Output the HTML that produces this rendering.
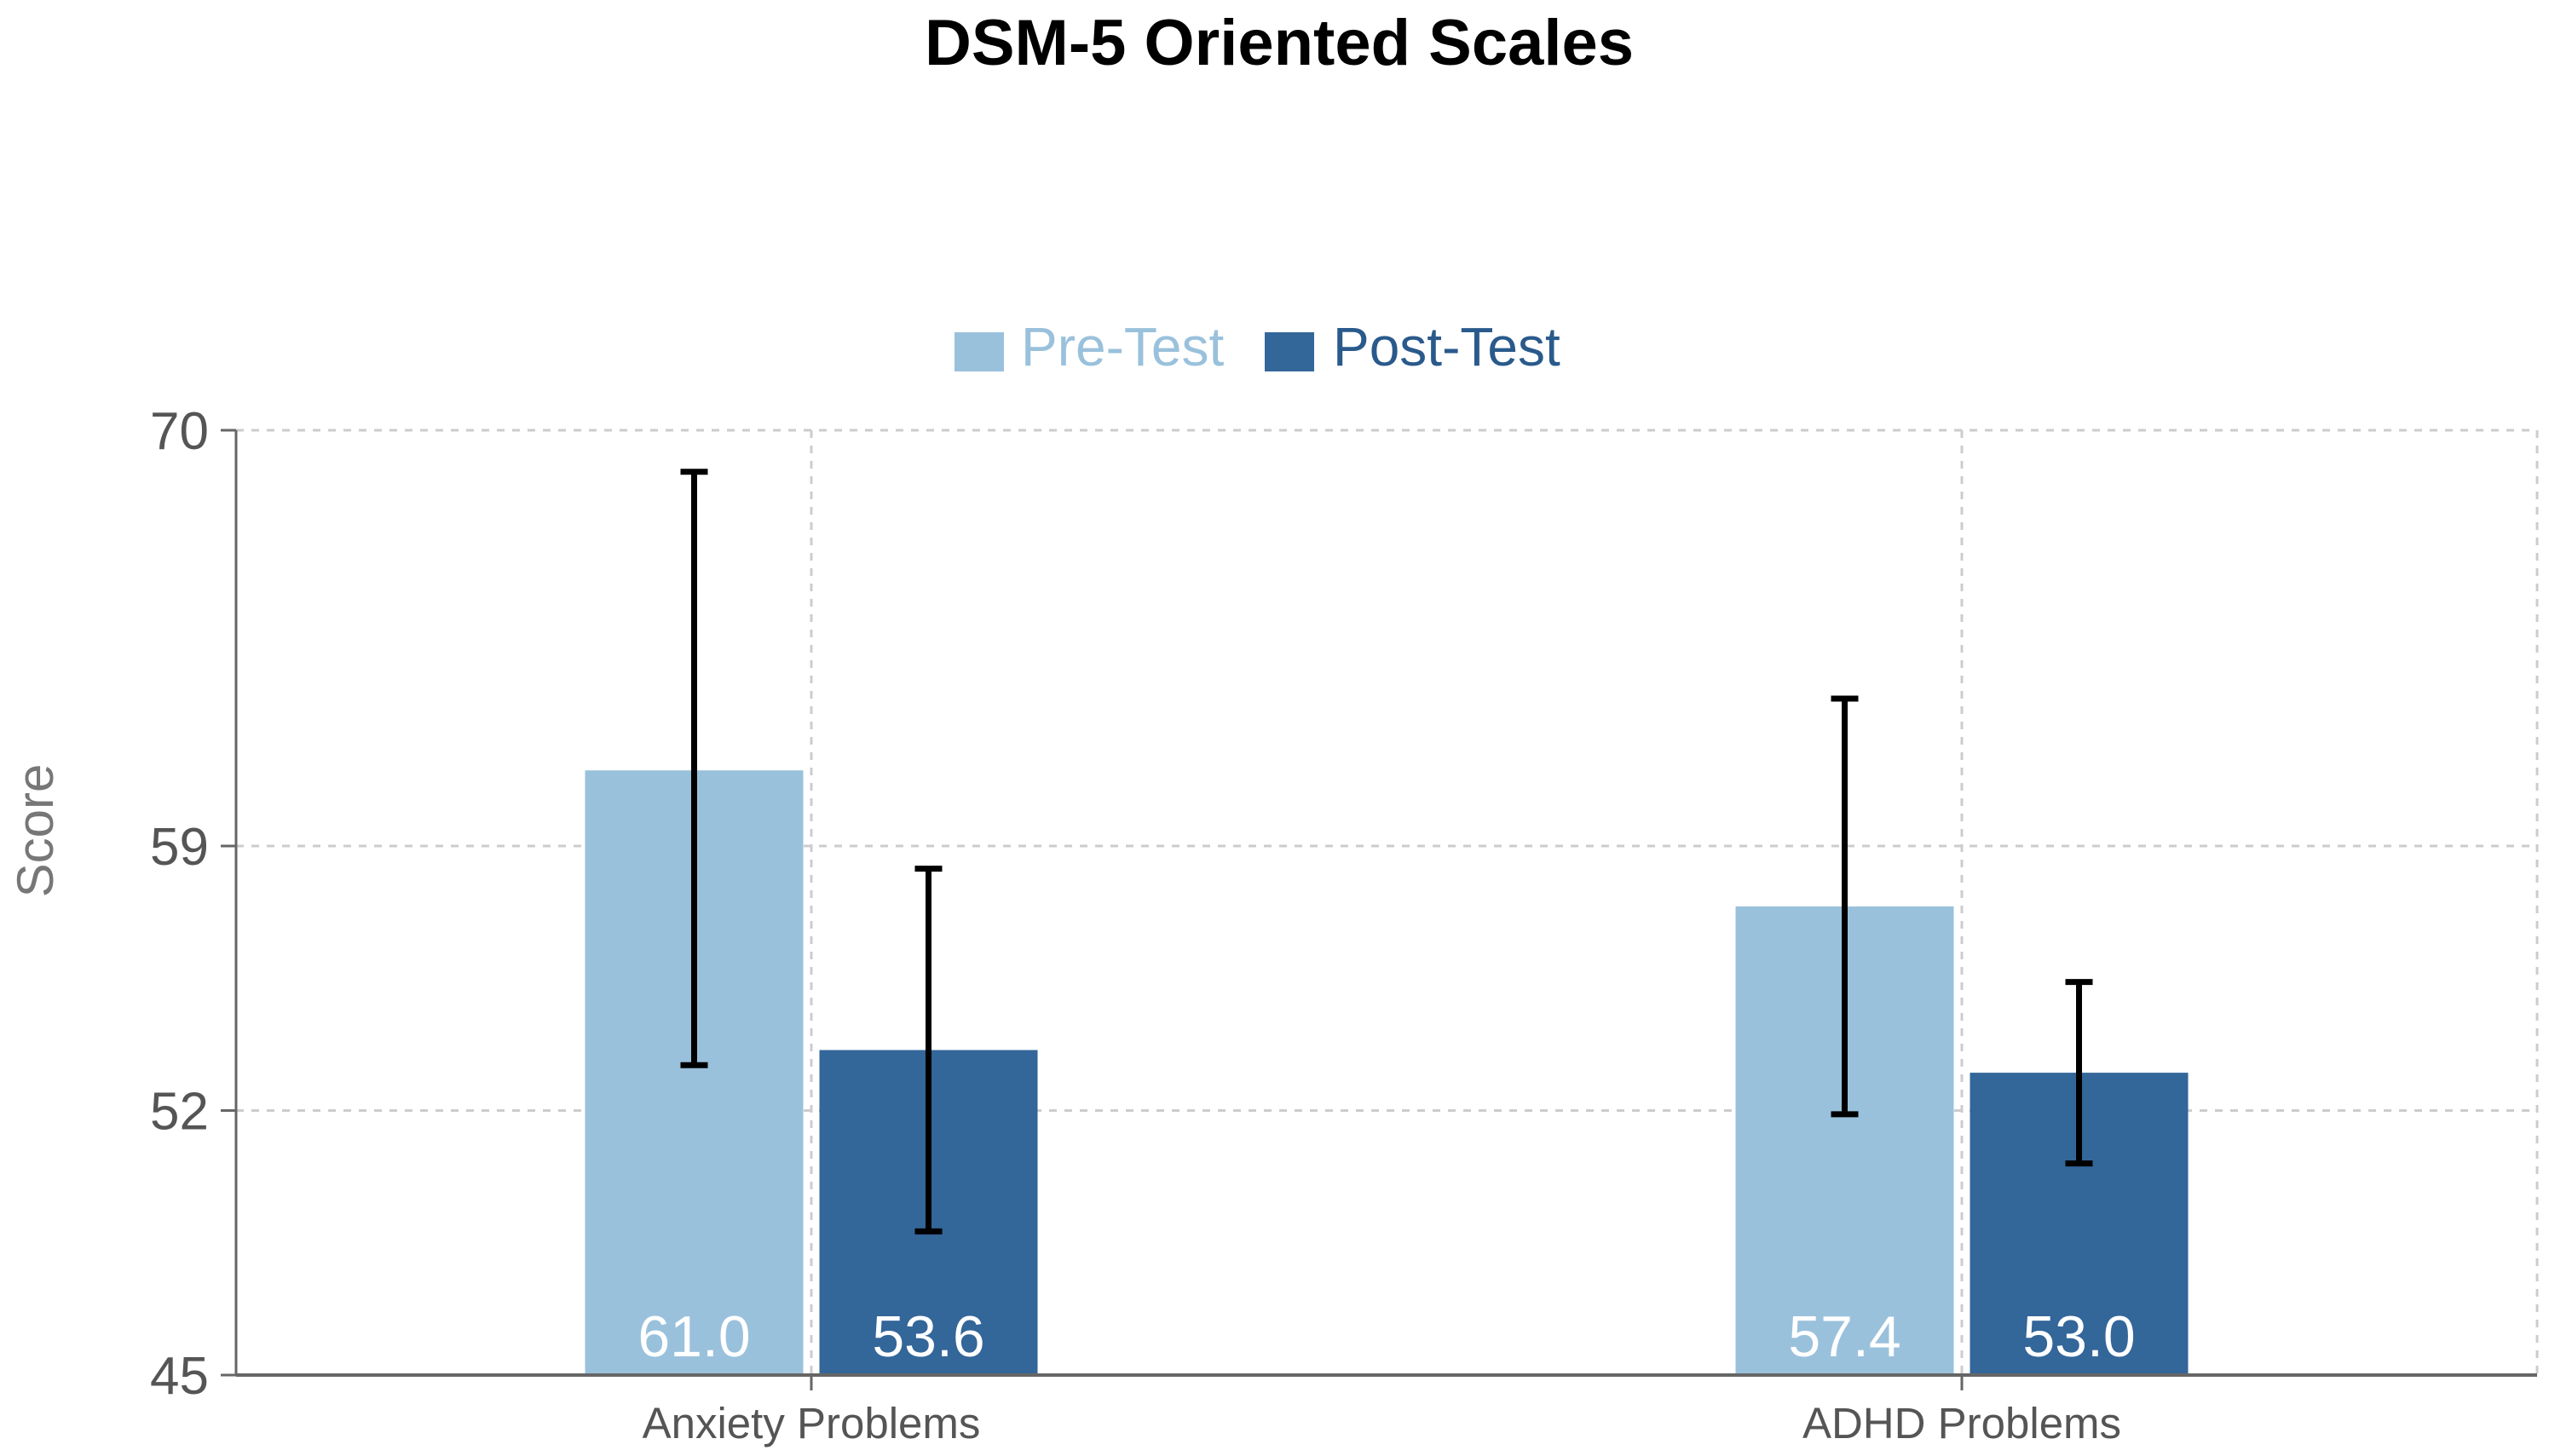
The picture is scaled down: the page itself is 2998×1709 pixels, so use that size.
<!DOCTYPE html>
<html><head><meta charset="utf-8"><style>
html,body{margin:0;padding:0;background:#fff;}
svg{display:block;font-family:"Liberation Sans",sans-serif;}
</style></head><body>
<svg id="chart" width="2998" height="1709" viewBox="0 0 2998 1709">
<text x="1501" y="76" text-anchor="middle" font-size="76" font-weight="bold" fill="#000">DSM-5 Oriented Scales</text>
<g>
<rect x="1120" y="390" width="58" height="46" fill="#9ac1dc"/>
<text x="1198" y="429" font-size="64" fill="#9ac1dc">Pre-Test</text>
<rect x="1484" y="390" width="58" height="46" fill="#336699"/>
<text x="1564" y="429" font-size="64" fill="#2a5a8c">Post-Test</text>
</g>
<text transform="translate(62,975) rotate(-90)" text-anchor="middle" font-size="60" fill="#777">Score</text>
<g id="grid"></g>
<g id="bars"></g>
<g id="axes"></g>
</svg>
<script>
const categories = ["Anxiety Problems", "ADHD Problems"];
const preValues = [61.0, 57.4];
const postValues = [53.6, 53.0];
const preLow = [53.2, 51.9];
const preHigh = [68.9, 62.9];
const postLow = [48.8, 50.6];
const postHigh = [58.4, 55.4];
const yTicks = [45, 52, 59, 70];

const NS = "http://www.w3.org/2000/svg";
const X0 = 277, X1 = 2977, Y0 = 1614, Y1 = 505, VMIN = 45, VMAX = 70;
const y = v => Y0 - (v - VMIN) / (VMAX - VMIN) * (Y0 - Y1);
const catW = (X1 - X0) / categories.length;
const xc = i => X0 + catW * (i + 0.5);
const BW = 256, GAP = 19;
function mk(tag, attrs, parent) {
  const e = document.createElementNS(NS, tag);
  for (const k in attrs) e.setAttribute(k, attrs[k]);
  parent.appendChild(e);
  return e;
}
const grid = document.getElementById('grid');
const bars = document.getElementById('bars');
const axes = document.getElementById('axes');
yTicks.forEach(t => {
  if (t !== VMIN) {
    const gl = mk('line', {x1: X0, x2: X1, y1: y(t), y2: y(t), stroke: '#cccccc', 'stroke-width': 3, 'stroke-dasharray': '9,9'}, grid);
    
    
  }
  const tk = mk('line', {x1: X0 - 18, x2: X0, y1: y(t), y2: y(t), stroke: '#666', 'stroke-width': 3}, axes);
  
  
  const lb = mk('text', {x: X0 - 32, y: y(t) + 22, 'text-anchor': 'end', 'font-size': 62, fill: '#555'}, axes);
  lb.textContent = t;
  
  
});
categories.forEach((c, i) => {
  const vg = mk('line', {x1: xc(i), x2: xc(i), y1: Y1, y2: Y0, stroke: '#cccccc', 'stroke-width': 3, 'stroke-dasharray': '9,9'}, grid);
  
  
});
const rg = mk('line', {x1: X1, x2: X1, y1: Y1, y2: Y0, stroke: '#cccccc', 'stroke-width': 3, 'stroke-dasharray': '9,9'}, grid);



function drawBar(i, v, lo, hi, left, color, name) {
  const x = left ? xc(i) - GAP / 2 - BW : xc(i) + GAP / 2;
  const r = mk('rect', {x: x, y: y(v), width: BW, height: Y0 - y(v), fill: color}, bars);
  
  
  const t = mk('text', {x: x + BW / 2, y: Y0 - 22, 'text-anchor': 'middle', 'font-size': 68, fill: '#fff'}, bars);
  t.textContent = v.toFixed(1);
  
  
  const cx = x + BW / 2;
  const g = mk('g', {stroke: '#000', 'stroke-width': 7}, bars);
  
  
  mk('line', {x1: cx, x2: cx, y1: y(hi), y2: y(lo)}, g);
  mk('line', {x1: cx - 16, x2: cx + 16, y1: y(hi), y2: y(hi)}, g);
  mk('line', {x1: cx - 16, x2: cx + 16, y1: y(lo), y2: y(lo)}, g);
}
categories.forEach((c, i) => {
  drawBar(i, preValues[i], preLow[i], preHigh[i], true, '#9ac1dc', 'pre-test');
  drawBar(i, postValues[i], postLow[i], postHigh[i], false, '#336699', 'post-test');
  const tk = mk('line', {x1: xc(i), x2: xc(i), y1: Y0, y2: Y0 + 18, stroke: '#666', 'stroke-width': 3}, axes);
  
  
  const lb = mk('text', {x: xc(i), y: 1688, 'text-anchor': 'middle', 'font-size': 51, fill: '#555'}, axes);
  lb.textContent = c;
  
  
});
const ya = mk('line', {x1: X0, x2: X0, y1: Y1, y2: Y0, stroke: '#666', 'stroke-width': 3}, axes);


const xa = mk('line', {x1: X0, x2: X1, y1: Y0, y2: Y0, stroke: '#666', 'stroke-width': 4}, axes);


</script>
</body></html>
